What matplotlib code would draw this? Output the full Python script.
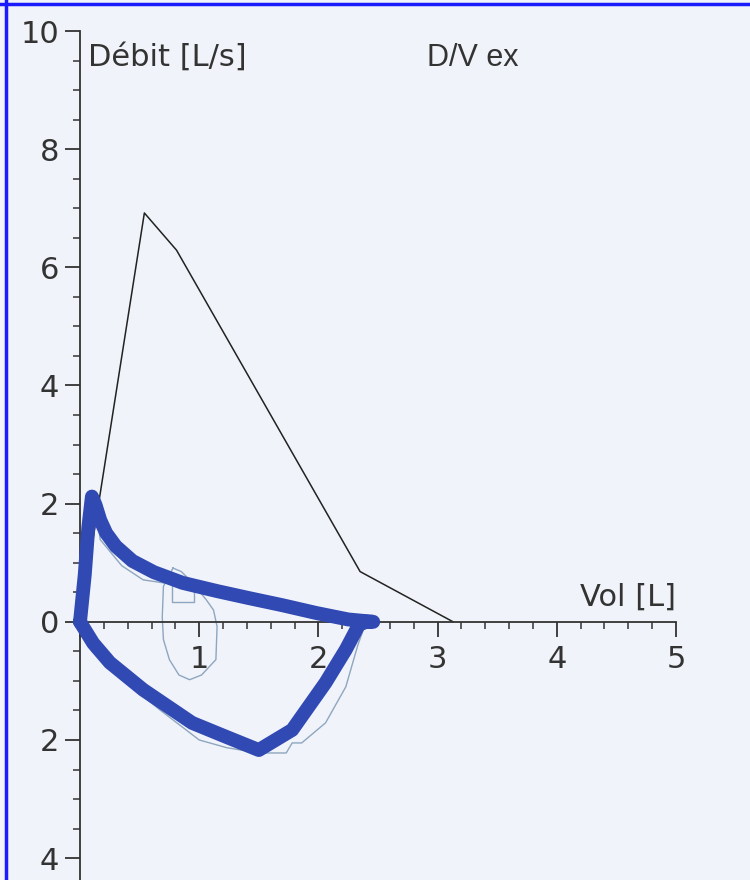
import numpy as np
import matplotlib
matplotlib.use("Agg")
import matplotlib.pyplot as plt
from matplotlib.lines import Line2D

# predicted (theoretical) expiratory curve
pred_vol = [0.0, 0.54, 0.81, 2.35, 3.13]
pred_flow = [0.0, 6.92, 6.29, 0.85, 0.0]

# measured loop (thick blue): expiration above, inspiration below
meas_vol = [0.0, 0.04, 0.07, 0.10, 0.13, 0.17, 0.22, 0.30, 0.44, 0.62, 0.86, 1.15,
            1.42, 1.70, 1.98, 2.25, 2.46, 2.40, 2.34, 2.23, 2.06, 1.78, 1.50, 1.23,
            0.94, 0.53, 0.25, 0.11, 0.0]
meas_flow = [0.0, 0.8, 1.6, 2.12, 1.98, 1.72, 1.50, 1.28, 1.03, 0.84, 0.66, 0.52,
             0.40, 0.28, 0.15, 0.04, 0.0, 0.0, -0.05, -0.47, -1.03, -1.83, -2.17, -1.95,
             -1.71, -1.15, -0.69, -0.36, 0.0]

# other trial (thin light trace)
thin_vol = [0.0, 0.05, 0.12, 0.17, 0.35, 0.53, 0.90, 1.42, 2.00, 2.40, 2.33, 2.23,
            2.06, 1.86, 1.78, 1.73, 1.50, 1.23, 1.00, 0.67, 0.36, 0.10, 0.0]
thin_flow = [0.0, 1.5, 2.1, 1.39, 0.95, 0.71, 0.60, 0.42, 0.15, 0.0, -0.4, -1.1,
             -1.71, -2.05, -2.05, -2.22, -2.22, -2.13, -2.0, -1.49, -0.98, -0.5, 0.0]

# small loop around 1 L
pill_vol = [0.78, 0.70, 0.69, 0.70, 0.75, 0.83, 0.92, 1.02, 1.14, 1.15, 1.12, 1.06,
            0.95, 0.85, 0.78]
pill_flow = [0.91, 0.6, 0.08, -0.3, -0.64, -0.9, -0.98, -0.9, -0.64, -0.08, 0.2, 0.37,
             0.65, 0.85, 0.91]
box_vol = [0.77, 0.77, 0.96, 0.96]
box_flow = [0.62, 0.34, 0.34, 0.52]

y_major = [-4, -2, 0, 2, 4, 6, 8, 10]
x_major = [0, 1, 2, 3, 4, 5]

bg = "#f0f3f9"
ink = "#333333"

fig = plt.figure(figsize=(7.5, 8.8), dpi=100, facecolor=bg)
ax = fig.add_axes([80 / 750, 0.0, 596 / 750, 849 / 880], facecolor=bg)
ax.set_xlim(0, 5)
ax.set_ylim(-4.37, 10)

ax.plot(pred_vol, pred_flow, color="#222222", lw=1.1, zorder=2)
ax.plot(thin_vol, thin_flow, color="#8ea6c0", lw=1.0, zorder=2)
ax.plot(pill_vol, pill_flow, color="#8ea6c0", lw=1.0, zorder=2)
ax.plot(box_vol, box_flow, color="#8ea6c0", lw=1.0, zorder=2)
ax.plot(meas_vol, meas_flow, color="#3149b3", lw=10, solid_joinstyle="round",
        solid_capstyle="round", zorder=3, clip_on=False)

for s in ["top", "right"]:
    ax.spines[s].set_visible(False)
ax.spines["bottom"].set_position(("data", 0))
for s in ["left", "bottom"]:
    ax.spines[s].set_color(ink)
    ax.spines[s].set_linewidth(1.3)

ax.set_yticks(y_major)
ax.set_yticklabels([str(abs(v)) for v in y_major])
ax.set_yticks(np.arange(-4, 10.01, 0.5), minor=True)
ax.set_xticks(x_major)
ax.set_xticklabels([""] + [str(v) for v in x_major[1:]])
ax.set_xticks(np.arange(0, 5.01, 0.2), minor=True)

ax.tick_params(axis="both", which="major", direction="out", length=11, width=1.3,
               color=ink, labelcolor=ink, labelsize=22)
ax.tick_params(axis="both", which="minor", direction="out", length=5, width=1.1,
               color=ink)
ax.tick_params(axis="y", which="major", pad=4)
ax.tick_params(axis="x", which="major", pad=6)

ax.text(0.07, 9.55, "Débit [L/s]", fontsize=22, color=ink, ha="left", va="center")
ax.text(2.91, 9.55, "D/V ex", fontsize=22, color=ink, ha="left", va="center",
        family="Liberation Sans")
ax.text(5.0, 0.42, "Vol [L]", fontsize=22, color=ink, ha="right", va="center")

# blue frame of the scan (left and top edges)
fig.add_artist(Line2D([6 / 750, 6 / 750], [0, 1], color="#1a1aff", lw=2.5))
fig.add_artist(Line2D([0, 1], [1 - 4 / 880, 1 - 4 / 880], color="#1a1aff", lw=2.5))

fig.savefig("out.png", dpi=100, facecolor=bg)
